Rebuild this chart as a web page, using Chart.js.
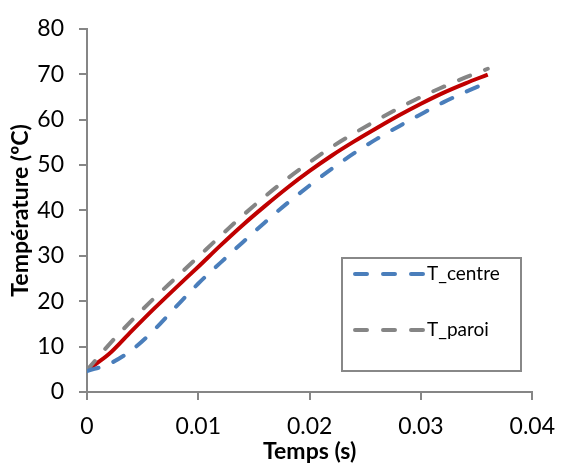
<!DOCTYPE html>
<html>
<head>
<meta charset="utf-8">
<script src="https://cdn.jsdelivr.net/npm/chart.js@4"></script>
<style>
  html, body { margin: 0; padding: 0; background: #fff; }
  canvas { display: block; }
</style>
</head>
<body>
<canvas id="myChart" width="568" height="465"></canvas>
<script>
// time (s)
const temps = [0, 0.002, 0.004, 0.006, 0.008, 0.010, 0.012, 0.014, 0.016, 0.018,
               0.020, 0.022, 0.024, 0.026, 0.028, 0.030, 0.032, 0.034, 0.036];
const tCentre = [4.6, 6.2, 9.2, 13.6, 18.8, 23.9, 28.5, 33.0, 37.4, 41.6,
                 45.5, 49.2, 52.6, 55.7, 58.5, 61.2, 63.8, 66.1, 68.2];
const tParoi = [4.8, 10.5, 15.7, 20.6, 25.2, 29.8, 34.4, 38.9, 43.1, 47.0,
                50.6, 54.0, 57.0, 59.8, 62.5, 65.0, 67.2, 69.3, 71.2];
const tMoyenne = [4.8, 8.4, 13.4, 18.3, 23.0, 27.6, 32.3, 36.8, 41.0, 45.0,
                  48.7, 52.1, 55.2, 58.1, 60.9, 63.5, 65.9, 68.0, 69.9];
const xTicks = [0, 0.01, 0.02, 0.03, 0.04];
const yTicks = [0, 10, 20, 30, 40, 50, 60, 70, 80];

const axisGrey = '#868686';
const fontFamily = 'Lato, "Open Sans", sans-serif';

function toPoints(values) {
    return temps.map((t, i) => ({ x: t, y: values[i] }));
}

// legend drawn inside the plot, like the original
const boxLegend = {
    id: 'boxLegend',
    afterDraw(chart) {
        const ctx = chart.ctx;
        const box = { left: 342, top: 258, right: 521, bottom: 371 };
        ctx.save();
        ctx.fillStyle = '#fff';
        ctx.fillRect(box.left, box.top, box.right - box.left, box.bottom - box.top);
        ctx.strokeStyle = '#888';
        ctx.lineWidth = 2;
        ctx.strokeRect(box.left, box.top, box.right - box.left, box.bottom - box.top);

        const items = chart.data.datasets.filter(ds => ds.inLegend);
        const rows = [274, 330];
        items.forEach((ds, i) => {
            const y = rows[i];
            ctx.beginPath();
            ctx.strokeStyle = ds.borderColor;
            ctx.lineWidth = ds.borderWidth;
            ctx.lineCap = 'round';
            ctx.setLineDash(ds.borderDash);
            ctx.moveTo(355, y);
            ctx.lineTo(424, y);
            ctx.stroke();
            ctx.setLineDash([]);
            ctx.fillStyle = '#000';
            ctx.font = '19px ' + fontFamily;
            ctx.textBaseline = 'middle';
            ctx.textAlign = 'left';
            ctx.fillText(ds.label, 427, y);
        });
        ctx.restore();
    }
};

const ctx = document.getElementById('myChart').getContext('2d');
const myChart = new Chart(ctx, {
    type: 'line',
    data: {
        datasets: [
            {
                label: 'T_centre',
                data: toPoints(tCentre),
                borderColor: '#4a7ebb',
                borderWidth: 4,
                borderDash: [12, 16],
                borderCapStyle: 'round',
                inLegend: true
            },
            {
                label: 'T_paroi',
                data: toPoints(tParoi),
                borderColor: '#858585',
                borderWidth: 4,
                borderDash: [12, 16],
                borderCapStyle: 'round',
                inLegend: true
            },
            {
                label: 'T_moyenne',
                data: toPoints(tMoyenne),
                borderColor: '#c00000',
                borderWidth: 4,
                inLegend: false
            }
        ]
    },
    options: {
        responsive: false,
        animation: false,
        parsing: false,
        elements: {
            point: { radius: 0 },
            line: { cubicInterpolationMode: 'monotone', fill: false }
        },
        layout: { padding: { left: 0, top: 21, right: 26, bottom: 0 } },
        plugins: {
            legend: { display: false },
            tooltip: { enabled: false }
        },
        scales: {
            x: {
                type: 'linear',
                min: 0,
                max: 0.04,
                afterFit: scale => { scale.height = 73; },
                afterBuildTicks: scale => { scale.ticks = xTicks.map(v => ({ value: v })); },
                ticks: {
                    color: '#000',
                    padding: 13,
                    maxRotation: 0,
                    font: { family: fontFamily, size: 23 },
                    callback: v => String(v)
                },
                grid: {
                    drawOnChartArea: false,
                    drawTicks: true,
                    tickLength: 8,
                    color: axisGrey,
                    lineWidth: 2
                },
                border: { display: true, color: axisGrey, width: 2 },
                title: {
                    display: true,
                    text: 'Temps (s)',
                    color: '#000',
                    font: { family: fontFamily, size: 23, weight: 'bold' },
                    padding: { top: 0, bottom: 0 }
                }
            },
            y: {
                type: 'linear',
                min: 0,
                max: 80,
                afterFit: scale => { scale.width = 87; },
                afterBuildTicks: scale => { scale.ticks = yTicks.map(v => ({ value: v })); },
                ticks: {
                    color: '#000',
                    padding: 15,
                    font: { family: fontFamily, size: 23 }
                },
                grid: {
                    drawOnChartArea: false,
                    drawTicks: true,
                    tickLength: 8,
                    color: axisGrey,
                    lineWidth: 2
                },
                border: { display: true, color: axisGrey, width: 2 },
                title: {
                    display: true,
                    text: 'Température (ºC)',
                    color: '#000',
                    font: { family: fontFamily, size: 23, weight: 'bold' },
                    padding: { top: 7, bottom: 0 }
                }
            }
        }
    },
    plugins: [boxLegend]
});
</script>
</body>
</html>
